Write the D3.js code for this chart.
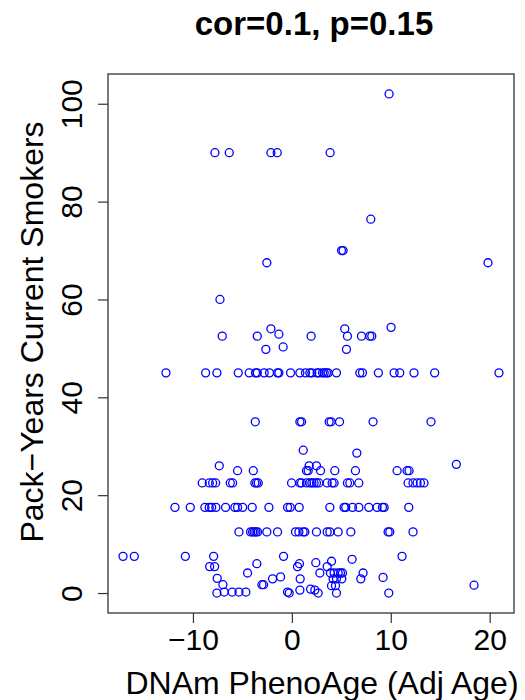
<!DOCTYPE html>
<html>
<head>
<meta charset="utf-8">
<script src="https://cdn.jsdelivr.net/npm/d3@7"></script>
<style>
  html, body { margin: 0; padding: 0; background: #fff; }
  svg { display: block; }
  text { font-family: "Liberation Sans", Arial, Helvetica, sans-serif; fill: #000; }
</style>
</head>
<body>
<svg id="chart" width="525" height="700"></svg>
<script>
// ---- Data ----
const titleText = "cor=0.1, p=0.15";
const xLabel = "DNAm PhenoAge (Adj Age)";
const yLabel = "Pack\u2212Years Current Smokers";
const xTicks = [-10, 0, 10, 20];
const yTicks = [0, 20, 40, 60, 80, 100];

// DNAm PhenoAge (Adj Age)
const phenoAgeAdj = [
  9.83,
  -7.78, -6.33, -2.12, -1.48, 3.87,
  7.98,
  5.02, 5.18,
  -2.53, 19.83,
  -7.27,
  -2.12, 5.35, 10.03, -1.31,
  -7.04, -3.5, 1.95, 5.62, 7.04, 7.88, 8.08,
  -2.63, 5.52, -0.88,
  -12.73, -8.72, -7.58, -5.42, -4.31, -3.67, -3.5, -2.8, -2.26, -1.45, -1.31, -0.13, 0.81, 1.38, 1.82, 2.02, 2.56, 2.73, 3.1, 3.27, 3.5, 3.67, 4.51, 6.87, 7.14, 8.75, 10.34, 10.91, 12.35, 14.44, 20.94,
  -3.7, 0.81, 0.98, 3.77, 3.97, 4.82, 8.21, 14.07,
  1.15, 6.57, 16.63,
  -7.34, 1.75, 2.49,
  -5.49, -3.9, 1.48, 1.65, 2.9, 4.34, 6.43, 10.64, 11.65, 11.85,
  -9.06, -8.35, -8.01, -7.71, -6.23, -5.99, -3.74, -3.57, -3.4, -0.03, 0.81, 0.98, 1.48, 1.82, 2.02, 2.25, 2.49, 2.73, 3.57, 4.07, 4.27, 5.62, 5.86, 6.77, 11.75, 12.25, 12.66, 13.0, 13.36,
  -11.82, -10.27, -8.79, -8.35, -8.11, -7.68, -6.7, -5.76, -5.49, -4.98, -4.01, -2.32, -0.43, -0.17, 0.74, 3.84, 5.28, 5.45, 6.13, 6.77, 7.78, 8.62, 9.16, 9.33, 11.82,
  -5.35, -4.17, -3.97, -3.81, -3.64, -3.47, -2.53, -1.45, 0.37, 0.71, 1.14, 1.31, 2.49, 3.57, 3.84, 4.68, 5.96, 9.73, 9.9, 12.25,
  -17.07, -15.93, -10.77, -7.91, -8.31, -7.81, -7.55, -6.97, -7.58, -6.84, -6.03, -5.35, -4.65, -4.48, -3.54, -3.03, -2.86, -1.95, -1.14, -0.84, -0.44, -0.27,
  0.57, 0.77, 0.84, 0.81, 2.42, 4.01, 6.09, 11.14, 3.57, 2.83, 3.9, 4.27, 4.68, 4.92, 5.12, 7.2, 4.17, 4.51, 5.05, 6.97, 9.22,
  1.89, 2.32, 2.66, 4.01, 4.41, 4.51, 9.8, 18.42
];

// Pack-Years Current Smokers
const packYears = [
  102,
  90, 90, 90, 90, 90,
  76.4,
  70, 70,
  67.5, 67.5,
  60,
  54, 54, 54.3, 52.9,
  52.5, 52.5, 52.5, 52.5, 52.5, 52.5, 52.5,
  49.8, 49.8, 50.3,
  45, 45, 45, 45, 45, 45, 45, 45, 45, 45, 45, 45, 45, 45, 45, 45, 45, 45, 45, 45, 45, 45, 45, 45, 45, 45, 45, 45, 45, 45, 45,
  35, 35, 35, 35, 35, 35, 35, 35,
  29.2, 28.6, 26.3,
  26, 26, 26,
  25, 25, 25, 25, 25, 25, 25, 25, 25, 25,
  22.5, 22.5, 22.5, 22.5, 22.5, 22.5, 22.5, 22.5, 22.5, 22.5, 22.5, 22.5, 22.5, 22.5, 22.5, 22.5, 22.5, 22.5, 22.5, 22.5, 22.5, 22.5, 22.5, 22.5, 22.5, 22.5, 22.5, 22.5, 22.5,
  17.5, 17.5, 17.5, 17.5, 17.5, 17.5, 17.5, 17.5, 17.5, 17.5, 17.5, 17.5, 17.5, 17.5, 17.5, 17.5, 17.5, 17.5, 17.5, 17.5, 17.5, 17.5, 17.5, 17.5, 17.5,
  12.5, 12.5, 12.5, 12.5, 12.5, 12.5, 12.5, 12.5, 12.5, 12.5, 12.5, 12.5, 12.5, 12.5, 12.5, 12.5, 12.5, 12.5, 12.5, 12.5,
  7.5, 7.5, 7.5, 7.5, 5.4, 5.4, 3.0, 1.7, 0, 0.2, 0.2, 0.2, 0.2, 4.1, 6.0, 1.7, 1.7, 2.9, 3.3, 7.5, 0.2, 0,
  5.4, 6.0, 2.9, 0.6, 6.2, 6.5, 6.9, 7.5, 5.4, 4.1, 4.1, 4.1, 4.1, 4.1, 4.1, 4.1, 2.9, 2.9, 2.9, 2.9, 3.2,
  0.8, 0.6, 0, 1.5, 1.5, 0, 0, 1.6
];

// ---- Layout ----
const plot = { left: 108, right: 514, top: 74, bottom: 613 };
const svg = d3.select("#chart");

// R-style 4% range extension
function padExtent(arr) {
  const [lo, hi] = d3.extent(arr);
  const p = (hi - lo) * 0.04;
  return [lo - p, hi + p];
}

const x = d3.scaleLinear().domain(padExtent(phenoAgeAdj)).range([plot.left, plot.right]);
const y = d3.scaleLinear().domain(padExtent(packYears)).range([plot.bottom, plot.top]);

const fmt = d => (d < 0 ? "\u2212" + Math.abs(d) : String(d));

// X axis
const xAxis = d3.axisBottom(x).tickValues(xTicks).tickSize(10).tickPadding(5).tickFormat(fmt);
const gx = svg.append("g").attr("transform", `translate(0,${plot.bottom})`).call(xAxis);
gx.select(".domain").remove();
gx.selectAll(".tick line").attr("stroke", "#333").attr("stroke-width", 1.2);
gx.selectAll(".tick text")
  .attr("dy", null)
  .attr("y", 37)
  .style("font-size", "30px")
  .style("font-family", "'Liberation Sans', Arial, sans-serif")
  .attr("fill", "#000");

// Y axis
const yAxis = d3.axisLeft(y).tickValues(yTicks).tickSize(10).tickFormat(fmt);
const gy = svg.append("g").attr("transform", `translate(${plot.left},0)`).call(yAxis);
gy.select(".domain").remove();
gy.selectAll(".tick line").attr("stroke", "#333").attr("stroke-width", 1.2);
gy.selectAll(".tick text")
  .attr("dy", null)
  .attr("text-anchor", "middle")
  .attr("transform", "translate(-26,0) rotate(-90)")
  .attr("x", 0).attr("y", 0)
  .style("font-size", "30px")
  .style("font-family", "'Liberation Sans', Arial, sans-serif")
  .attr("fill", "#000");

// Box
svg.append("rect")
  .attr("x", plot.left).attr("y", plot.top)
  .attr("width", plot.right - plot.left).attr("height", plot.bottom - plot.top)
  .attr("fill", "none").attr("stroke", "#333").attr("stroke-width", 1.3);

// Points
svg.append("g").selectAll("circle")
  .data(d3.range(phenoAgeAdj.length))
  .join("circle")
  .attr("cx", i => x(phenoAgeAdj[i]))
  .attr("cy", i => y(packYears[i]))
  .attr("r", 4)
  .attr("fill", "none")
  .attr("stroke", "#0000FF")
  .attr("stroke-width", 1.3);

// Title
svg.append("text")
  .attr("x", 314).attr("y", 35)
  .attr("text-anchor", "middle")
  .style("font-size", "33px").style("font-weight", "bold")
  .text(titleText);

// X label
svg.append("text")
  .attr("x", 322).attr("y", 694)
  .attr("text-anchor", "middle")
  .style("font-size", "32px")
  .text(xLabel);

// Y label
svg.append("text")
  .attr("transform", "translate(43,332) rotate(-90)")
  .attr("text-anchor", "middle")
  .style("font-size", "32px")
  .text(yLabel);
</script>
</body>
</html>
